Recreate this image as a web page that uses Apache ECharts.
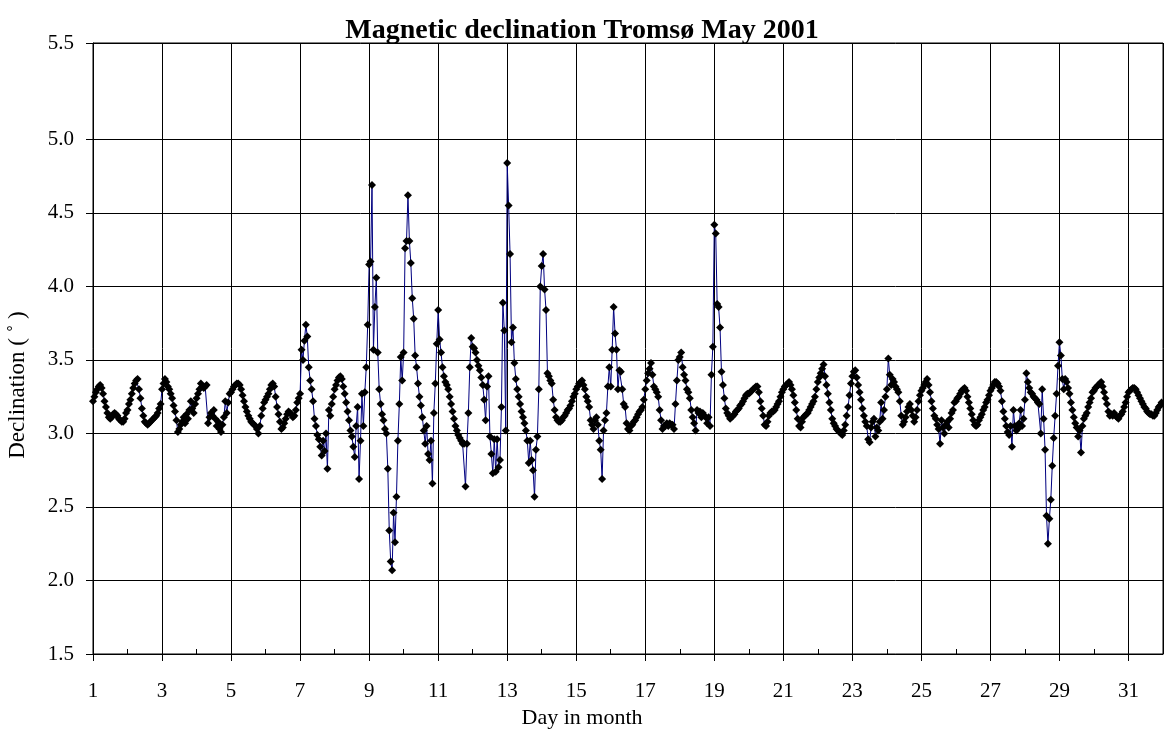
<!DOCTYPE html>
<html><head><meta charset="utf-8">
<script src="https://cdn.jsdelivr.net/npm/echarts@6/dist/echarts.min.js"></script>
<style>html,body{margin:0;padding:0;background:#fff}#c{width:1164px;height:746px}</style>
</head><body><div id="c"></div>
<script>
const chartTitle = 'Magnetic declination Tromsø May 2001';
const xAxisName = 'Day in month';
const yAxisName = 'Declination ( ˚ )';
// y gridlines / labels as drawn in the reference (top border carries the "5.5" label)
const yTickValues = [1.5, 2.0, 2.5, 3.0, 3.5, 4.0, 4.5, 5.0, 5.656];
const yTickLabels = ['1.5', '2.0', '2.5', '3.0', '3.5', '4.0', '4.5', '5.0', '5.5'];
const xMin = 1, xMax = 32, xStep = 2;

// hourly readings (h0..h23) for each day of May 2001
const day01 = [3.22,3.25,3.28,3.30,3.32,3.33,3.31,3.27,3.22,3.18,3.14,3.11,3.10,3.11,3.13,3.14,3.13,3.12,3.10,3.09,3.08,3.08,3.10,3.14];
const day02 = [3.16,3.20,3.23,3.27,3.31,3.34,3.36,3.37,3.30,3.24,3.17,3.12,3.08,3.07,3.06,3.07,3.08,3.09,3.10,3.11,3.12,3.14,3.17,3.20];
const day03 = [3.30,3.34,3.37,3.35,3.32,3.30,3.27,3.24,3.19,3.15,3.09,3.01,3.03,3.06,3.08,3.11,3.07,3.13,3.10,3.16,3.22,3.17,3.14,3.20];
const day04 = [3.24,3.27,3.30,3.34,3.32,3.31,3.32,3.33,3.07,3.11,3.14,3.12,3.16,3.10,3.05,3.08,3.03,3.01,3.06,3.11,3.22,3.14,3.21,3.27];
const day05 = [3.28,3.30,3.32,3.33,3.34,3.34,3.33,3.30,3.26,3.22,3.18,3.15,3.12,3.10,3.08,3.07,3.06,3.05,3.03,3.00,3.05,3.12,3.17,3.21];
const day06 = [3.23,3.25,3.27,3.30,3.33,3.34,3.32,3.25,3.18,3.13,3.08,3.03,3.04,3.07,3.10,3.13,3.15,3.14,3.13,3.11,3.12,3.16,3.21,3.24];
const day07 = [3.27,3.57,3.50,3.63,3.74,3.66,3.45,3.36,3.30,3.22,3.10,3.05,2.99,2.96,2.91,2.85,2.95,2.88,3.00,2.76,3.16,3.12,3.20,3.25];
const day08 = [3.30,3.33,3.36,3.38,3.39,3.37,3.32,3.27,3.21,3.15,3.09,3.02,2.98,2.91,2.84,3.05,3.18,2.69,2.95,3.27,3.05,3.28,3.45,3.74];
const day09 = [4.15,4.17,4.69,3.57,3.86,4.06,3.55,3.30,3.20,3.13,3.09,3.03,3.00,2.76,2.34,2.13,2.07,2.46,2.26,2.57,2.95,3.20,3.52,3.36];
const day10 = [3.55,4.26,4.31,4.62,4.31,4.16,3.92,3.78,3.53,3.45,3.34,3.25,3.19,3.11,3.02,2.93,3.05,2.86,2.82,2.95,2.66,3.14,3.34,3.61];
const day11 = [3.84,3.64,3.55,3.45,3.39,3.35,3.33,3.30,3.25,3.20,3.15,3.10,3.05,3.02,2.99,2.97,2.95,2.93,2.93,2.64,2.93,3.14,3.45,3.65];
const day12 = [3.59,3.58,3.55,3.50,3.46,3.43,3.38,3.33,3.23,3.09,3.32,3.39,2.98,2.86,2.73,2.96,2.74,2.96,2.77,2.82,3.18,3.89,3.70,3.02];
const day13 = [4.84,4.55,4.22,3.62,3.72,3.48,3.37,3.30,3.25,3.20,3.15,3.11,3.07,3.02,2.95,2.80,2.95,2.82,2.75,2.57,2.89,2.98,3.30,4.00];
const day14 = [4.14,4.22,3.98,3.84,3.41,3.39,3.36,3.34,3.23,3.16,3.11,3.09,3.08,3.08,3.09,3.11,3.12,3.14,3.16,3.17,3.19,3.22,3.25,3.27];
const day15 = [3.30,3.32,3.34,3.35,3.36,3.33,3.30,3.25,3.22,3.18,3.09,3.06,3.03,3.09,3.11,3.06,2.95,2.89,2.69,3.02,3.09,3.14,3.32,3.45];
const day16 = [3.32,3.57,3.86,3.68,3.57,3.30,3.43,3.42,3.30,3.20,3.18,3.07,3.03,3.02,3.05,3.06,3.08,3.09,3.11,3.13,3.15,3.16,3.18,3.23];
const day17 = [3.30,3.36,3.41,3.44,3.48,3.40,3.32,3.30,3.28,3.25,3.16,3.09,3.03,3.05,3.05,3.07,3.05,3.07,3.06,3.06,3.03,3.20,3.36,3.50];
const day18 = [3.52,3.55,3.45,3.40,3.36,3.30,3.28,3.24,3.16,3.11,3.07,3.02,3.16,3.14,3.15,3.11,3.14,3.12,3.11,3.07,3.11,3.05,3.40,3.59];
const day19 = [4.42,4.36,3.88,3.86,3.72,3.42,3.33,3.24,3.17,3.14,3.12,3.10,3.11,3.12,3.13,3.15,3.16,3.17,3.19,3.20,3.22,3.24,3.26,3.27];
const day20 = [3.27,3.28,3.29,3.30,3.31,3.32,3.32,3.28,3.22,3.17,3.12,3.06,3.05,3.08,3.12,3.14,3.15,3.15,3.16,3.18,3.20,3.22,3.25,3.28];
const day21 = [3.30,3.32,3.33,3.34,3.35,3.33,3.30,3.26,3.21,3.16,3.10,3.05,3.04,3.08,3.11,3.12,3.13,3.14,3.16,3.18,3.20,3.22,3.25,3.30];
const day22 = [3.35,3.38,3.41,3.44,3.47,3.39,3.33,3.27,3.21,3.16,3.10,3.07,3.05,3.03,3.02,3.01,3.00,2.99,3.02,3.06,3.12,3.18,3.26,3.34];
const day23 = [3.39,3.42,3.43,3.38,3.33,3.28,3.23,3.17,3.12,3.08,3.05,2.96,2.94,3.04,3.08,3.10,2.98,3.04,3.02,3.08,3.21,3.10,3.16,3.25];
const day24 = [3.30,3.51,3.40,3.33,3.37,3.35,3.32,3.30,3.28,3.22,3.12,3.06,3.08,3.11,3.15,3.18,3.20,3.16,3.12,3.08,3.11,3.16,3.22,3.26];
const day25 = [3.29,3.31,3.33,3.35,3.37,3.33,3.28,3.22,3.17,3.12,3.10,3.06,3.03,2.93,3.09,3.04,3.00,3.06,3.08,3.04,3.10,3.14,3.16,3.21];
const day26 = [3.22,3.24,3.25,3.27,3.29,3.30,3.31,3.29,3.25,3.21,3.17,3.13,3.09,3.06,3.05,3.06,3.09,3.11,3.13,3.16,3.18,3.21,3.23,3.26];
const day27 = [3.29,3.31,3.33,3.35,3.35,3.34,3.32,3.29,3.22,3.15,3.10,3.05,3.01,2.99,3.05,2.91,3.16,3.05,3.02,3.03,3.07,3.16,3.05,3.10];
const day28 = [3.23,3.41,3.35,3.31,3.28,3.27,3.25,3.24,3.23,3.21,3.20,3.00,3.30,3.10,2.89,2.44,2.25,2.42,2.55,2.78,2.97,3.12,3.27,3.46];
const day29 = [3.62,3.53,3.37,3.30,3.37,3.35,3.31,3.27,3.21,3.16,3.11,3.07,3.04,2.98,3.02,2.87,3.05,3.10,3.12,3.14,3.18,3.21,3.24,3.28];
const day30 = [3.29,3.31,3.32,3.33,3.34,3.35,3.32,3.28,3.24,3.20,3.15,3.12,3.13,3.12,3.14,3.12,3.11,3.10,3.12,3.13,3.15,3.18,3.21,3.25];
const day31 = [3.28,3.29,3.30,3.31,3.31,3.30,3.28,3.26,3.24,3.22,3.20,3.18,3.17,3.15,3.14,3.13,3.13,3.12,3.12,3.14,3.16,3.18,3.19,3.21];

const days = [day01,day02,day03,day04,day05,day06,day07,day08,day09,day10,day11,day12,day13,day14,day15,day16,
              day17,day18,day19,day20,day21,day22,day23,day24,day25,day26,day27,day28,day29,day30,day31];
const points = [];
days.forEach((vals, i) => vals.forEach((v, h) => points.push([i + 1 + h / vals.length, v])));

const fontFamily = '"Liberation Serif", "Times New Roman", serif';
const yMin = yTickValues[0], yMax = yTickValues[yTickValues.length - 1];
const chart = echarts.init(document.getElementById('c'), null, {renderer: 'canvas'});
chart.setOption({
  animation: false,
  backgroundColor: '#fff',
  title: {text: chartTitle, left: 'center', top: 12,
          textStyle: {fontFamily: fontFamily, fontWeight: 'bold', fontSize: 28, color: '#000'}},
  grid: {left: 93, right: 1, top: 43, bottom: 92, containLabel: false,
         show: true, borderColor: '#000', borderWidth: 1, backgroundColor: 'transparent'},
  graphic: [
    {type: 'text', x: 582, y: 718, silent: true,
     style: {text: xAxisName, fontFamily: fontFamily, fontSize: 22, fill: '#000',
             textAlign: 'center', textVerticalAlign: 'middle'}},
    {type: 'text', x: 18, y: 385, rotation: Math.PI / 2, silent: true,
     style: {text: yAxisName, fontFamily: fontFamily, fontSize: 23, fill: '#000',
             textAlign: 'center', textVerticalAlign: 'middle'}}
  ],
  xAxis: [{
    type: 'value', min: xMin, max: xMax, interval: xStep,
    axisLine: {show: true, onZero: false, lineStyle: {color: '#000', width: 1}},
    axisTick: {show: true, length: 7, lineStyle: {color: '#000'}},
    axisLabel: {fontFamily: fontFamily, fontSize: 21, color: '#000', margin: 27, showMaxLabel: false},
    splitLine: {show: true, lineStyle: {color: '#000', width: 1}}
  }, {
    type: 'value', min: xMin, max: xMax, interval: 1, position: 'bottom',
    axisLine: {show: false}, axisLabel: {show: false}, splitLine: {show: false},
    axisTick: {show: true, inside: true, length: 5, lineStyle: {color: '#000'}}
  }],
  yAxis: {
    type: 'value', min: yMin, max: yMax,
    axisLine: {show: true, lineStyle: {color: '#000', width: 1}},
    axisTick: {show: true, length: 7, lineStyle: {color: '#000'}, customValues: yTickValues},
    axisLabel: {fontFamily: fontFamily, fontSize: 21, color: '#000', margin: 19,
                customValues: yTickValues,
                formatter: v => yTickLabels[yTickValues.findIndex(t => Math.abs(t - v) < 1e-6)] ?? ''},
    splitLine: {show: true, lineStyle: {color: '#000', width: 1}}
  },
  series: [{
    type: 'line', xAxisIndex: 0, data: points,
    symbol: 'diamond', symbolSize: 8, showAllSymbol: true,
    itemStyle: {color: '#000'},
    lineStyle: {color: '#000080', width: 1}
  }]
});
</script></body></html>
